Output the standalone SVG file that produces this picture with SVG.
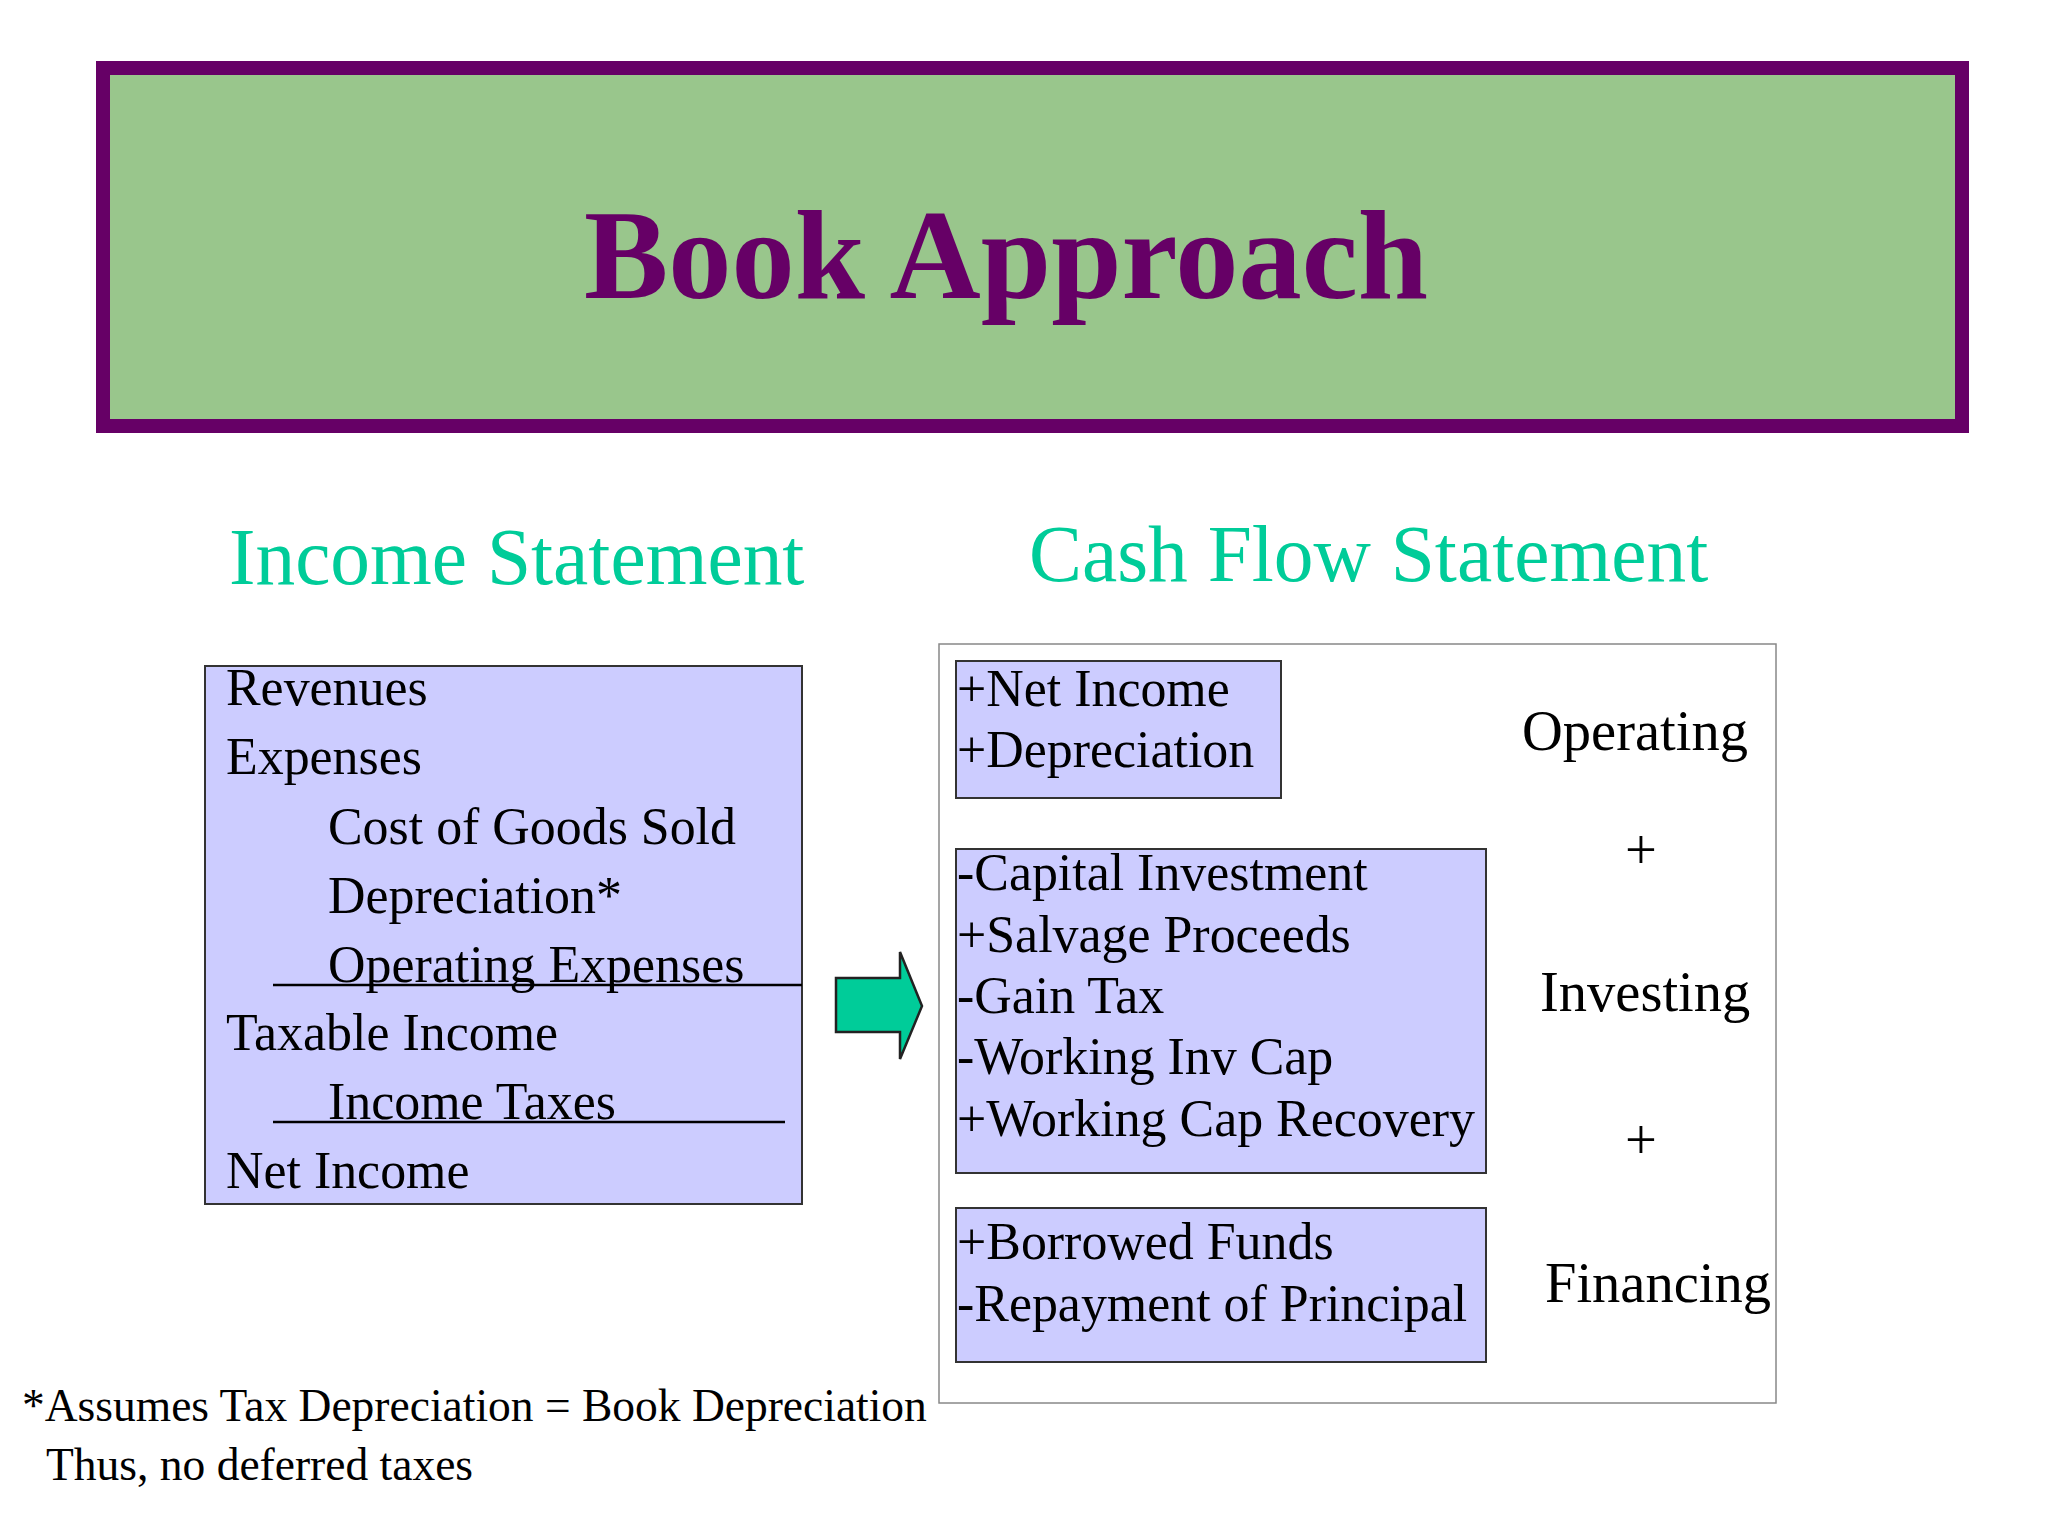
<svg xmlns="http://www.w3.org/2000/svg" width="2048" height="1536" viewBox="0 0 2048 1536">
<style>
.t{font-family:"Liberation Serif","Times New Roman",serif;fill:#000}
.b{font-size:51.9px}
.lab{font-size:56.5px}
.h{font-family:"Liberation Serif","Times New Roman",serif;font-size:79.4px;fill:#00CC99}
.box{fill:#CCCCFF;stroke:#333;stroke-width:2}
.rule{stroke:#000;stroke-width:2.5}
</style>
<rect width="2048" height="1536" fill="#fff"/>
<g id="title">
<rect x="103" y="68" width="1859" height="358" fill="#99C68C" stroke="#660066" stroke-width="14"/>
<text x="1006" y="298" text-anchor="middle" font-family="Liberation Serif,Times New Roman,serif" font-weight="bold" font-size="126.4" fill="#660066">Book Approach</text>
</g>
<g id="headings">
<text class="h" x="229" y="584">Income Statement</text>
<text class="h" x="1029" y="581">Cash Flow Statement</text>
</g>
<g id="income">
<rect class="box" x="205" y="666" width="597" height="538"/>
<text class="t b" x="226" y="705">Revenues</text>
<text class="t b" x="226" y="774">Expenses</text>
<text class="t b" x="328" y="844">Cost of Goods Sold</text>
<text class="t b" x="328" y="913">Depreciation*</text>
<text class="t b" x="328" y="982">Operating Expenses</text>
<line class="rule" x1="273" y1="985" x2="802" y2="985"/>
<text class="t b" x="226" y="1050">Taxable Income</text>
<text class="t b" x="328" y="1119">Income Taxes</text>
<line class="rule" x1="273" y1="1122" x2="785" y2="1122"/>
<text class="t b" x="226" y="1188">Net Income</text>
</g>
<g id="connectors">
<polygon points="836,978 900,978 900,952 922,1006 900,1059 900,1032 836,1032" fill="#00CC99" stroke="#222" stroke-width="2.5" stroke-linejoin="miter"/>
</g>
<g id="cashflow">
<rect x="939" y="644" width="837" height="759" fill="#fff" stroke="#888" stroke-width="1.5"/>
</g>
<g id="operating">
<rect class="box" x="956" y="661" width="325" height="137"/>
<text class="t b" x="957" y="706">+Net Income</text>
<text class="t b" x="957" y="767">+Depreciation</text>
<text class="t lab" x="1522" y="750">Operating</text>
</g>
<g id="investing">
<rect class="box" x="956" y="849" width="530" height="324"/>
<text class="t b" x="957" y="890">-Capital Investment</text>
<text class="t b" x="957" y="952">+Salvage Proceeds</text>
<text class="t b" x="957" y="1013">-Gain Tax</text>
<text class="t b" x="957" y="1074">-Working Inv Cap</text>
<text class="t b" x="957" y="1136">+Working Cap Recovery</text>
<text class="t lab" x="1540" y="1011">Investing</text>
</g>
<g id="financing">
<rect class="box" x="956" y="1208" width="530" height="154"/>
<text class="t b" x="957" y="1259">+Borrowed Funds</text>
<text class="t b" x="957" y="1321">-Repayment of Principal</text>
<text class="t lab" x="1545" y="1302">Financing</text>
</g>
<g id="plus">
<text class="t lab" x="1641" y="869" text-anchor="middle">+</text>
<text class="t lab" x="1641" y="1159" text-anchor="middle">+</text>
</g>
<g id="footnote">
<text class="t" font-size="45.5" x="22" y="1421">*Assumes Tax Depreciation = Book Depreciation</text>
<text class="t" font-size="45.5" x="46" y="1480">Thus, no deferred taxes</text>
</g>
</svg>
